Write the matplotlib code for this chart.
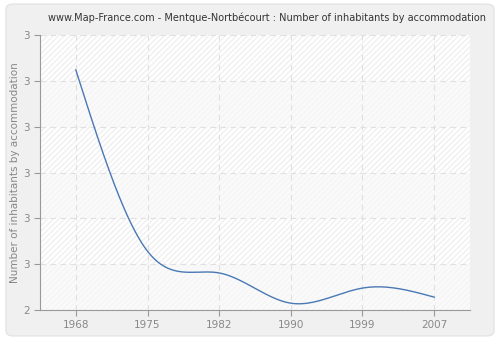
import numpy as np
import matplotlib
matplotlib.use("Agg")
import matplotlib.pyplot as plt
from matplotlib.patches import FancyBboxPatch

years = ["1968", "1975", "1982", "1990", "1999", "2007"]
values = [2.873, 2.214, 2.135, 2.025, 2.080, 2.047]
ytick_labels = ["2", "3", "3", "3", "3", "3", "3"]


def natural_spline(x, y, n=300):
    x = np.asarray(x, float)
    y = np.asarray(y, float)
    k = len(x)
    h = np.diff(x)
    A = np.zeros((k, k))
    b = np.zeros(k)
    A[0, 0] = A[-1, -1] = 1
    for i in range(1, k - 1):
        A[i, i - 1] = h[i - 1]
        A[i, i] = 2 * (h[i - 1] + h[i])
        A[i, i + 1] = h[i]
        b[i] = 3 * ((y[i + 1] - y[i]) / h[i] - (y[i] - y[i - 1]) / h[i - 1])
    c = np.linalg.solve(A, b)
    xs = np.linspace(x[0], x[-1], n)
    ys = np.empty_like(xs)
    for j, xv in enumerate(xs):
        i = min(np.searchsorted(x, xv, side="right") - 1, k - 2)
        dx = xv - x[i]
        bi = (y[i + 1] - y[i]) / h[i] - h[i] * (2 * c[i] + c[i + 1]) / 3
        di = (c[i + 1] - c[i]) / (3 * h[i])
        ys[j] = y[i] + bi * dx + c[i] * dx ** 2 + di * dx ** 3
    return xs, ys


fig = plt.figure(figsize=(5, 3.4), dpi=100)
fig.patch.set_facecolor("white")
bg = FancyBboxPatch((0.012, 0.012), 0.976, 0.976, boxstyle="round,pad=0,rounding_size=0.015",
                    transform=fig.transFigure, facecolor="#f0f0f0", edgecolor="#e4e4e4",
                    linewidth=1, zorder=-10)
fig.patches.append(bg)

ax = fig.add_axes([0.08, 0.088, 0.86, 0.809])
ax.set_facecolor("white")
ax.set_xlim(-0.5, 5.5)
ax.set_ylim(2.0, 3.0)

# alternating bands, lightly hatched
yt = np.linspace(2.0, 3.0, 7)
for i in range(6):
    if i % 2 == 1:
        ax.axhspan(yt[i], yt[i + 1], facecolor="white", edgecolor="#f0f0f0",
                   hatch="//////", linewidth=0, zorder=0)
    else:
        ax.axhspan(yt[i], yt[i + 1], facecolor="#fafafa", edgecolor="#f5f5f5",
                   hatch="//////", linewidth=0, zorder=0)

x = np.arange(len(years))
xs, ys = natural_spline(x, values)
ax.plot(xs, ys, color="#4a78b4", linewidth=1.0, zorder=3)

ax.set_xticks(x)
ax.set_xticklabels(years)
ax.set_yticks(yt)
ax.set_yticklabels(ytick_labels)
ax.grid(True, color="#e0e0e0", linestyle=(0, (5, 4)), linewidth=0.8, zorder=1)
ax.set_axisbelow(True)

for s in ["top", "right"]:
    ax.spines[s].set_visible(False)
for s in ["left", "bottom"]:
    ax.spines[s].set_color("#999999")
ax.tick_params(axis="both", colors="#999999", labelcolor="#888888", labelsize=7.5,
               length=4, width=0.8)

ax.set_ylabel("Number of inhabitants by accommodation", color="#888888", fontsize=7.5,
              labelpad=2)
fig.text(0.535, 0.948, "www.Map-France.com - Mentque-Nortbécourt : Number of inhabitants by accommodation",
         fontsize=7.0, color="#333333", ha="center", va="center")

fig.savefig("out.png", dpi=100, facecolor=fig.get_facecolor())
